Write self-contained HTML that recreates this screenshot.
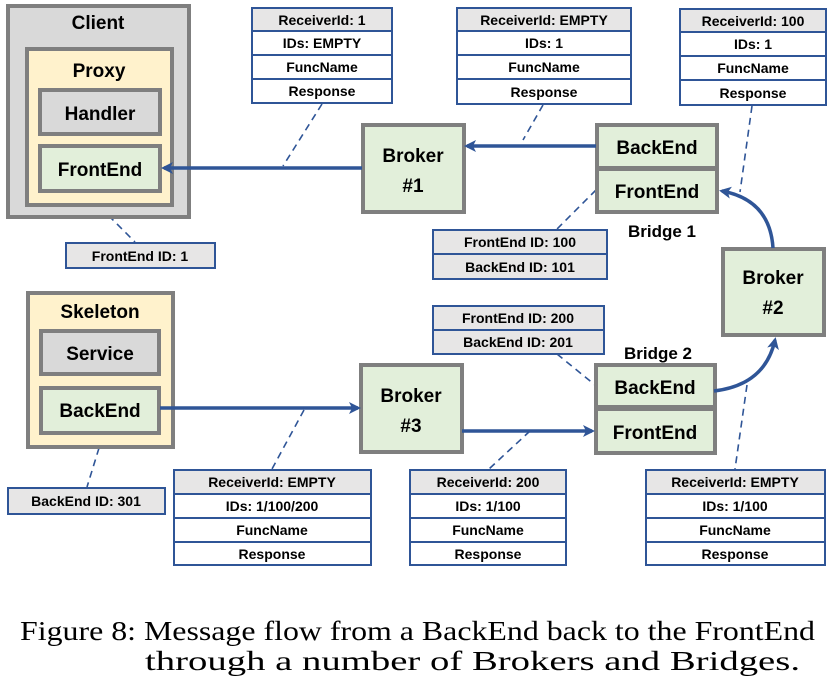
<!DOCTYPE html>
<html><head><meta charset="utf-8"><style>
html,body{margin:0;padding:0;background:#fff;}
svg{display:block;}
.t{font-family:"Liberation Sans",sans-serif;font-weight:bold;fill:#000;text-anchor:middle;}
.s{font-size:14px;}
.l{font-size:19px;}
.cap{font-family:"Liberation Serif",serif;font-size:27px;fill:#000;}
</style></head><body>
<svg width="831" height="680" viewBox="0 0 831 680" xmlns="http://www.w3.org/2000/svg">
<defs>
<marker id="ah" markerWidth="14" markerHeight="14" refX="9" refY="6" orient="auto" markerUnits="userSpaceOnUse">
<path d="M0,0 L12,6 L0,12 L3,6 Z" fill="#2f5597"/></marker>
</defs>
<g fill="none" stroke="#2f5597" stroke-width="1.6" stroke-dasharray="7,5">
<line x1="100" y1="207" x2="135" y2="242"/>
<line x1="322" y1="104" x2="283" y2="166"/>
<line x1="543" y1="105" x2="523" y2="140"/>
<line x1="752" y1="106" x2="740" y2="192"/>
<line x1="596" y1="190" x2="557" y2="229"/>
<line x1="557" y1="354" x2="595" y2="385"/>
<line x1="747" y1="385" x2="735" y2="469"/>
<line x1="99" y1="448" x2="87" y2="487"/>
<line x1="304" y1="410" x2="272" y2="469"/>
<line x1="530" y1="431" x2="489" y2="469"/>
</g>
<g stroke="#7f7f7f" stroke-width="4">
<rect x="8" y="6" width="181" height="211" fill="#d9d9d9"/>
<rect x="27" y="49" width="145" height="156" fill="#fff2cc"/>
<rect x="40" y="90" width="120" height="44" fill="#d9d9d9"/>
<rect x="40" y="146" width="120" height="45" fill="#e2efda"/>
<rect x="363" y="125" width="101" height="87" fill="#e2efda"/>
<rect x="597" y="125" width="120" height="43" fill="#e2efda"/>
<rect x="597" y="169" width="120" height="43" fill="#e2efda"/>
<rect x="723" y="249" width="101" height="86" fill="#e2efda"/>
<rect x="596" y="365" width="119" height="42" fill="#e2efda"/>
<rect x="596" y="409" width="119" height="44" fill="#e2efda"/>
<rect x="28" y="293" width="145" height="154" fill="#fff2cc"/>
<rect x="41" y="331" width="118" height="43" fill="#d9d9d9"/>
<rect x="41" y="388" width="118" height="45" fill="#e2efda"/>
<rect x="361" y="365" width="101" height="87" fill="#e2efda"/>
</g>
<g stroke="#2f5597" stroke-width="3.5" fill="none">
<line x1="362" y1="168" x2="164" y2="168" marker-end="url(#ah)"/>
<line x1="596" y1="146" x2="467" y2="146" marker-end="url(#ah)"/>
<line x1="160" y1="408" x2="358" y2="408" marker-end="url(#ah)"/>
<line x1="462" y1="431" x2="592" y2="431" marker-end="url(#ah)"/>
<path d="M773,248 Q770,200 722,191" marker-end="url(#ah)"/>
<path d="M714,391 Q765,385 775,340" marker-end="url(#ah)"/>
</g>
<g stroke="#2f5597" stroke-width="2">
<rect x="66" y="243" width="149" height="25" fill="#e7e6e6"/>
<rect x="8" y="488" width="157" height="26" fill="#e7e6e6"/>
<rect x="433" y="230" width="174" height="24" fill="#e7e6e6"/>
<rect x="433" y="254" width="174" height="25" fill="#e7e6e6"/>
<rect x="433" y="306" width="171" height="24" fill="#e7e6e6"/>
<rect x="433" y="330" width="171" height="24" fill="#e7e6e6"/>
<rect x="252" y="8" width="140" height="23" fill="#e7e6e6"/><rect x="252" y="31" width="140" height="24" fill="#fff"/><rect x="252" y="55" width="140" height="24" fill="#fff"/><rect x="252" y="79" width="140" height="24" fill="#fff"/>
<rect x="457" y="8" width="174" height="23" fill="#e7e6e6"/><rect x="457" y="31" width="174" height="24" fill="#fff"/><rect x="457" y="55" width="174" height="24" fill="#fff"/><rect x="457" y="79" width="174" height="25" fill="#fff"/>
<rect x="680" y="9" width="146" height="23" fill="#e7e6e6"/><rect x="680" y="32" width="146" height="24" fill="#fff"/><rect x="680" y="56" width="146" height="24" fill="#fff"/><rect x="680" y="80" width="146" height="25" fill="#fff"/>
<rect x="174" y="470" width="197" height="24" fill="#e7e6e6"/><rect x="174" y="494" width="197" height="24" fill="#fff"/><rect x="174" y="518" width="197" height="24" fill="#fff"/><rect x="174" y="542" width="197" height="23" fill="#fff"/>
<rect x="410" y="470" width="156" height="24" fill="#e7e6e6"/><rect x="410" y="494" width="156" height="24" fill="#fff"/><rect x="410" y="518" width="156" height="24" fill="#fff"/><rect x="410" y="542" width="156" height="23" fill="#fff"/>
<rect x="646" y="470" width="179" height="24" fill="#e7e6e6"/><rect x="646" y="494" width="179" height="24" fill="#fff"/><rect x="646" y="518" width="179" height="24" fill="#fff"/><rect x="646" y="542" width="179" height="23" fill="#fff"/>
</g>
<g class="t l">
<text x="98" y="29">Client</text>
<text x="99" y="77">Proxy</text>
<text x="100" y="120">Handler</text>
<text x="100" y="176">FrontEnd</text>
<text x="413" y="162">Broker</text>
<text x="413" y="192">#1</text>
<text x="657" y="154">BackEnd</text>
<text x="657" y="198">FrontEnd</text>
<text x="662" y="237" font-size="17">Bridge 1</text>
<text x="773" y="284">Broker</text>
<text x="773" y="314">#2</text>
<text x="658" y="359" font-size="17">Bridge 2</text>
<text x="655" y="394">BackEnd</text>
<text x="655" y="439">FrontEnd</text>
<text x="100" y="318">Skeleton</text>
<text x="100" y="360">Service</text>
<text x="100" y="417">BackEnd</text>
<text x="411" y="402">Broker</text>
<text x="411" y="432">#3</text>
</g>
<g class="t s">
<text x="140" y="261">FrontEnd ID: 1</text>
<text x="86" y="506">BackEnd ID: 301</text>
<text x="520" y="247">FrontEnd ID: 100</text>
<text x="520" y="272">BackEnd ID: 101</text>
<text x="518" y="323">FrontEnd ID: 200</text>
<text x="518" y="347">BackEnd ID: 201</text>
<text x="322" y="25">ReceiverId: 1</text><text x="322" y="48">IDs: EMPTY</text><text x="322" y="72">FuncName</text><text x="322" y="96">Response</text>
<text x="544" y="25">ReceiverId: EMPTY</text><text x="544" y="48">IDs: 1</text><text x="544" y="72">FuncName</text><text x="544" y="97">Response</text>
<text x="753" y="26">ReceiverId: 100</text><text x="753" y="49">IDs: 1</text><text x="753" y="73">FuncName</text><text x="753" y="98">Response</text>
<text x="272" y="487">ReceiverId: EMPTY</text><text x="272" y="511">IDs: 1/100/200</text><text x="272" y="535">FuncName</text><text x="272" y="559">Response</text>
<text x="488" y="487">ReceiverId: 200</text><text x="488" y="511">IDs: 1/100</text><text x="488" y="535">FuncName</text><text x="488" y="559">Response</text>
<text x="735" y="487">ReceiverId: EMPTY</text><text x="735" y="511">IDs: 1/100</text><text x="735" y="535">FuncName</text><text x="735" y="559">Response</text>
</g>
<text class="cap" x="20" y="640" textLength="795" lengthAdjust="spacingAndGlyphs">Figure 8: Message flow from a BackEnd back to the FrontEnd</text>
<text class="cap" x="145" y="670" textLength="655" lengthAdjust="spacingAndGlyphs">through a number of Brokers and Bridges.</text>
</svg>
</body></html>
